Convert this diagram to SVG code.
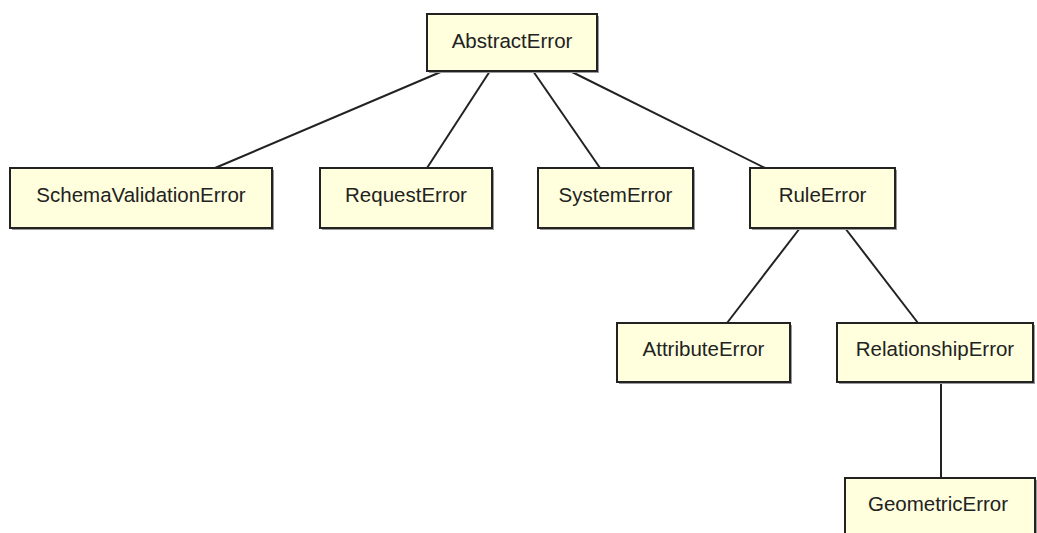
<svg xmlns="http://www.w3.org/2000/svg" width="1037" height="533" viewBox="0 0 1037 533">
<style>
.sh{fill:#9a9a9a;}
.bx{fill:#ffffdd;stroke:#222;stroke-width:2;}
.lb{font-family:"Liberation Sans",Arial,sans-serif;font-size:20.5px;fill:#222;text-anchor:middle;}
.cn line{stroke:#222;stroke-width:2;}
</style>
<rect width="1037" height="533" fill="#fff"/>
<g class="cn" id="connectors">
<line x1="443" y1="71" x2="215" y2="168"/>
<line x1="490" y1="71" x2="427" y2="168"/>
<line x1="533" y1="71" x2="600" y2="168"/>
<line x1="570" y1="71" x2="765" y2="168"/>
<line x1="800" y1="228" x2="727" y2="323"/>
<line x1="845" y1="228" x2="918" y2="323"/>
<line x1="941" y1="382" x2="941" y2="478"/>
</g>
<g id="AbstractError"><rect class="sh" x="429" y="16" width="170" height="57"/><rect class="bx" x="427" y="14" width="170" height="57"/><text class="lb" x="512" y="47.5">AbstractError</text></g>
<g id="SchemaValidationError"><rect class="sh" x="12" y="170" width="262" height="60"/><rect class="bx" x="10" y="168" width="262" height="60"/><text class="lb" x="141" y="202">SchemaValidationError</text></g>
<g id="RequestError"><rect class="sh" x="322" y="170" width="172" height="60"/><rect class="bx" x="320" y="168" width="172" height="60"/><text class="lb" x="406" y="202">RequestError</text></g>
<g id="SystemError"><rect class="sh" x="540" y="170" width="155" height="60"/><rect class="bx" x="538" y="168" width="155" height="60"/><text class="lb" x="615.5" y="202">SystemError</text></g>
<g id="RuleError"><rect class="sh" x="752" y="170" width="145" height="60"/><rect class="bx" x="750" y="168" width="145" height="60"/><text class="lb" x="822.5" y="202">RuleError</text></g>
<g id="AttributeError"><rect class="sh" x="619" y="325" width="173" height="59"/><rect class="bx" x="617" y="323" width="173" height="59"/><text class="lb" x="703.5" y="356">AttributeError</text></g>
<g id="RelationshipError"><rect class="sh" x="839" y="325" width="196" height="59"/><rect class="bx" x="837" y="323" width="196" height="59"/><text class="lb" x="935" y="356">RelationshipError</text></g>
<g id="GeometricError"><rect class="sh" x="847" y="480" width="190" height="60"/><rect class="bx" x="845" y="478" width="190" height="60"/><text class="lb" x="938" y="511">GeometricError</text></g>
</svg>
